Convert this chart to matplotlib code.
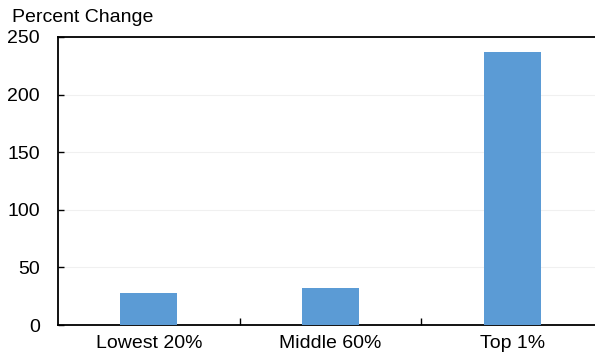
import numpy as np
import matplotlib.pyplot as plt

plt.rcParams['font.family'] = ['Liberation Sans', 'DejaVu Sans']

categories = ['Lowest 20%', 'Middle 60%', 'Top 1%']
values = [27.5, 32, 237]

fig = plt.figure(figsize=(5.95, 3.56), dpi=100)
ax = fig.add_axes([58 / 595, 31 / 356, 1 - 58 / 595, 288 / 356])

x = np.arange(len(categories))
ax.bar(x, values, width=0.315, color='#5B9BD5', zorder=3)

ax.set_xlim(-0.5, 2.455)
ax.set_ylim(0, 250)
ax.set_yticks([0, 50, 100, 150, 200, 250])
ax.yaxis.grid(True, color='#F0F0F0', linewidth=0.8, zorder=0)

ax.set_xticks(x)
ax.set_xticklabels(categories, fontsize=14)
ax.set_xticks([0.5, 1.5], minor=True)
ax.tick_params(axis='x', which='major', length=0, pad=7)
ax.tick_params(axis='x', which='minor', direction='in', length=5, width=1)
ax.tick_params(axis='y', direction='in', length=4, width=1, labelsize=14, pad=13)

for s in ['left', 'bottom', 'top']:
    ax.spines[s].set_color('black')
    ax.spines[s].set_linewidth(1.3)
ax.spines['right'].set_visible(False)

fig.text(12 / 595, 1 - 17 / 356, 'Percent Change', fontsize=14, va='center', ha='left')

fig.savefig('out.png', dpi=100)
